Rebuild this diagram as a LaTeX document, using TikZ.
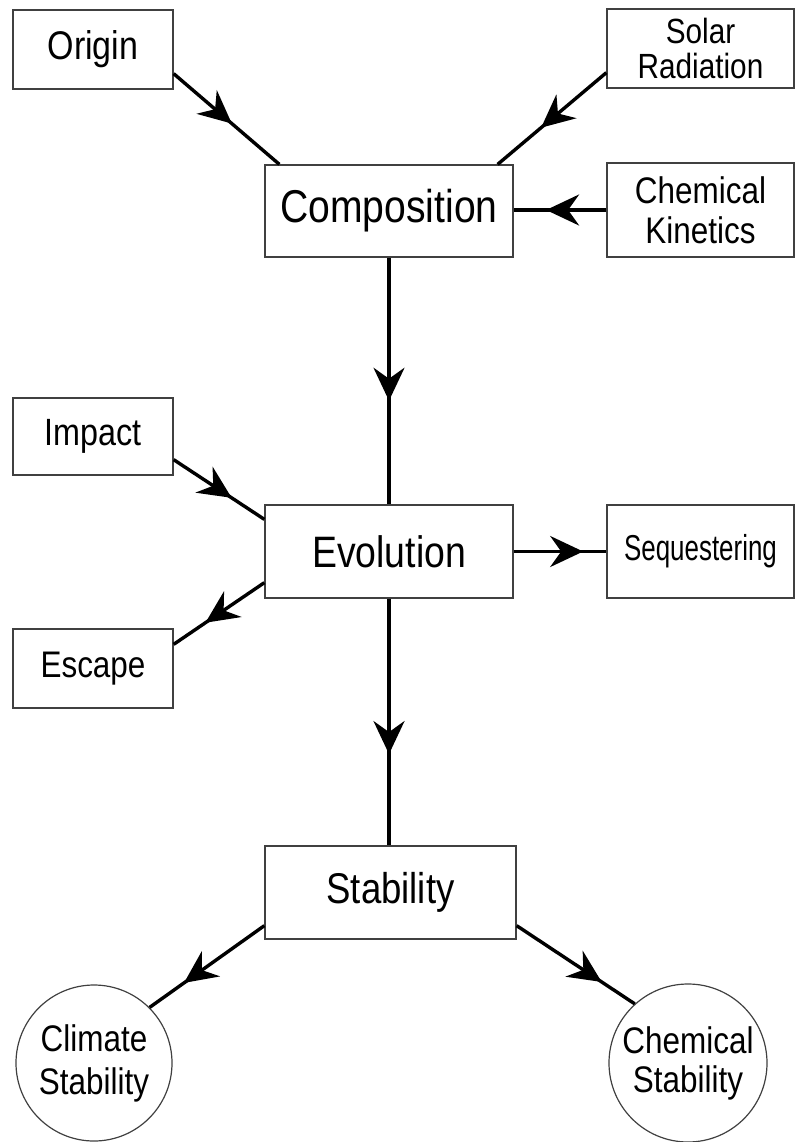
\documentclass[tikz,border=0pt]{standalone}
\usepackage{fontspec}
\setmainfont{Liberation Sans}[FakeStretch=0.85]
\newfontfamily\narrowfont{Liberation Sans}[FakeStretch=0.72]
\usetikzlibrary{arrows.meta,decorations.markings,calc}
\tikzset{
  box/.style={draw=black!75, line width=1.3pt, rectangle, inner sep=0pt, align=center},
  circ/.style={draw=black!75, line width=1.2pt, circle, inner sep=0pt, align=center},
  flow/.style={line width=3.4pt, postaction={decorate},
    decoration={markings, mark=at position #1 with {\arrow{Stealth[length=33pt,width=31pt,inset=11pt]}}}},
}
\begin{document}
\begin{tikzpicture}[x=1pt,y=-1pt]
\useasboundingbox (0,0) rectangle (795,1142);
% boxes
\node[box, minimum width=160pt, minimum height=79pt, font=\fontsize{40}{44}\selectfont] (orig) at (93,49.5) {Origin};
\node[box, minimum width=187pt, minimum height=79pt, font=\fontsize{35}{35}\selectfont] (solar) at (700.5,48.5) {Solar\\Radiation};
\node[box, minimum width=248pt, minimum height=92pt, font=\fontsize{46}{50}\selectfont] (comp) at (389,211) {Composition};
\node[box, minimum width=187pt, minimum height=94pt, font=\fontsize{37}{40}\selectfont] (ck) at (700.5,210) {Chemical\\Kinetics};
\node[box, minimum width=160pt, minimum height=77pt, font=\fontsize{38}{40}\selectfont] (imp) at (93,436.5) {Impact};
\node[box, minimum width=248pt, minimum height=93pt, font=\fontsize{44}{48}\selectfont] (evol) at (389,551.5) {Evolution};
\node[box, minimum width=187pt, minimum height=93pt, font=\narrowfont\fontsize{36}{40}\selectfont] (seq) at (700.5,551.5) {Sequestering};
\node[box, minimum width=160pt, minimum height=79pt, font=\fontsize{37}{40}\selectfont] (esc) at (93,668.5) {Escape};
\node[box, minimum width=251pt, minimum height=93pt, font=\fontsize{43}{48}\selectfont] (stab) at (390.5,892.5) {Stability};
\node[circ, minimum size=156pt, font=\fontsize{37}{43}\selectfont] (clim) at (94,1063) {Climate\\Stability};
\node[circ, minimum size=158pt, font=\fontsize{37}{39}\selectfont] (chem) at (688,1063) {Chemical\\Stability};
% connectors
\draw[flow=0.55] ($(orig.south east)+(0,-16)$) -- ($(comp.north west)+(15,0)$);
\draw[flow=0.60] ($(solar.south west)+(0,-16)$) -- ($(comp.north east)+(-16,0)$);
\draw[flow=0.65] (ck.west) -- (comp.east |- ck.west);
\draw[flow=0.58] (comp.south) -- (evol.north);
\draw[flow=0.64] ($(imp.south east)+(0,-16)$) -- ($(evol.north west)+(0,15)$);
\draw[flow=0.65] ($(evol.south west)+(0,-16)$) -- ($(esc.north east)+(0,16)$);
\draw[flow=0.75] (evol.east) -- (seq.west |- evol.east);
\draw[flow=0.63] (evol.south) -- (evol.south |- stab.north);
\draw[flow=0.70] ($(stab.south west)+(0,-14)$) -- (clim.45);
\draw[flow=0.72] ($(stab.south east)+(0,-14)$) -- (chem.132);
\end{tikzpicture}
\end{document}
